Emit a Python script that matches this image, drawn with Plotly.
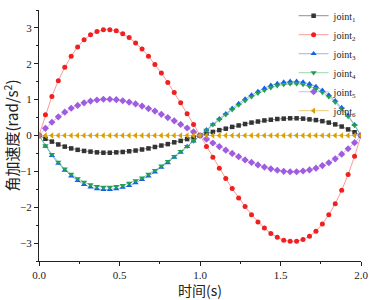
import plotly.graph_objects as go

t = [round(i * 0.04, 2) for i in range(51)]

joint1 = [0, -0.09, -0.17, -0.25, -0.31, -0.36, -0.40, -0.43, -0.45, -0.47, -0.48, -0.48, -0.47, -0.46, -0.44, -0.42, -0.39, -0.36, -0.32, -0.28, -0.24, -0.19, -0.15, -0.10, -0.05,
          0, 0.05, 0.10, 0.15, 0.19, 0.24, 0.28, 0.32, 0.36, 0.39, 0.42, 0.44, 0.46, 0.47, 0.48, 0.48, 0.47, 0.45, 0.43, 0.40, 0.36, 0.31, 0.25, 0.17, 0.09, 0]
joint2 = [0, 0.58, 1.09, 1.53, 1.90, 2.21, 2.47, 2.67, 2.81, 2.90, 2.95, 2.95, 2.92, 2.84, 2.73, 2.58, 2.41, 2.21, 1.98, 1.74, 1.48, 1.20, 0.91, 0.61, 0.31,
          0, -0.31, -0.61, -0.91, -1.20, -1.48, -1.74, -1.98, -2.21, -2.41, -2.58, -2.73, -2.84, -2.92, -2.95, -2.95, -2.90, -2.81, -2.67, -2.47, -2.21, -1.90, -1.53, -1.09, -0.58, 0]
joint3 = [0, -0.30, -0.56, -0.78, -0.97, -1.13, -1.26, -1.37, -1.44, -1.49, -1.51, -1.51, -1.49, -1.45, -1.40, -1.32, -1.23, -1.13, -1.02, -0.89, -0.76, -0.61, -0.47, -0.31, -0.16,
          0, 0.16, 0.31, 0.47, 0.61, 0.76, 0.89, 1.02, 1.13, 1.23, 1.32, 1.40, 1.45, 1.49, 1.51, 1.51, 1.49, 1.44, 1.37, 1.26, 1.13, 0.97, 0.78, 0.56, 0.30, 0]
joint4 = [0, -0.28, -0.53, -0.74, -0.93, -1.08, -1.20, -1.30, -1.37, -1.42, -1.44, -1.44, -1.42, -1.39, -1.33, -1.26, -1.18, -1.08, -0.97, -0.85, -0.72, -0.58, -0.44, -0.30, -0.15,
          0, 0.15, 0.30, 0.44, 0.58, 0.72, 0.85, 0.97, 1.08, 1.18, 1.26, 1.33, 1.39, 1.42, 1.44, 1.44, 1.42, 1.37, 1.30, 1.20, 1.08, 0.93, 0.74, 0.53, 0.28, 0]
joint5 = [0, 0.20, 0.37, 0.52, 0.65, 0.76, 0.84, 0.91, 0.96, 0.99, 1.01, 1.01, 1.00, 0.97, 0.93, 0.88, 0.82, 0.75, 0.68, 0.59, 0.50, 0.41, 0.31, 0.21, 0.10,
          0, -0.10, -0.21, -0.31, -0.41, -0.50, -0.59, -0.68, -0.75, -0.82, -0.88, -0.93, -0.97, -1.00, -1.01, -1.01, -0.99, -0.96, -0.91, -0.84, -0.76, -0.65, -0.52, -0.37, -0.20, 0]
joint6 = [0] * 51

names = ["joint<sub>1</sub>", "joint<sub>2</sub>", "joint<sub>3</sub>",
         "joint<sub>4</sub>", "joint<sub>5</sub>", "joint<sub>6</sub>"]
series = [joint1, joint2, joint3, joint4, joint5, joint6]
colors = ["#333333", "#F02020", "#1560E8", "#22A050", "#A05CE0", "#D8A000"]
lines = ["rgba(51,51,51,0.55)", "rgba(240,32,32,0.45)", "rgba(21,96,232,0.45)",
         "rgba(34,160,80,0.45)", "rgba(160,92,224,0.45)", "rgba(216,160,0,0.55)"]
symbols = ["square", "circle", "triangle-up", "triangle-down", "diamond", "triangle-left"]
msizes = [4.5, 5, 5.5, 5.5, 5.5, 5.5]

fig = go.Figure()
for n, y, c, lc, s, ms in zip(names, series, colors, lines, symbols, msizes):
    fig.add_trace(go.Scatter(
        x=t, y=y, name=n, mode="lines+markers",
        line=dict(color=lc, width=1),
        marker=dict(color=c, symbol=s, size=ms, line=dict(width=0)),
    ))

serif = "Liberation Serif"
cjk = "Noto Sans CJK SC"
fig.update_layout(
    width=373, height=300,
    margin=dict(l=39, r=12, t=1, b=39),
    paper_bgcolor="white", plot_bgcolor="white",
    font=dict(family=serif, size=11, color="#222"),
    showlegend=True,
    legend=dict(x=1.005, y=1.035, xanchor="right", yanchor="top",
                bgcolor="rgba(0,0,0,0)", font=dict(family=serif, size=10),
                tracegroupgap=0, itemwidth=30),
)
fig.update_xaxes(
    range=[0, 2], tickvals=[0, 0.5, 1.0, 1.5, 2.0],
    ticktext=["0.0", "0.5", "1.0", "1.5", "2.0"],
    tickfont=dict(family=serif, size=11),
    ticks="outside", ticklen=4, tickcolor="#222", showline=True, linecolor="#222",
    showgrid=False, zeroline=False,
    minor=dict(ticks="outside", ticklen=2, dtick=0.25, tickcolor="#222"),
    title=dict(text="时间(s)", font=dict(family=cjk, size=14), standoff=2),
)
fig.update_yaxes(
    range=[-3.5, 3.5], tickvals=[-3, -2, -1, 0, 1, 2, 3],
    tickfont=dict(family=serif, size=11),
    ticks="outside", ticklen=4, tickcolor="#222", showline=True, linecolor="#222",
    showgrid=False, zeroline=False,
    minor=dict(ticks="outside", ticklen=2, dtick=0.5, tickcolor="#222"),
    title=dict(text="角加速度(rad/s<sup>2</sup>)", font=dict(family=cjk, size=15), standoff=4),
)

fig.write_html("out.html", config={"displayModeBar": False},
               post_script="document.body.style.margin='0';")
